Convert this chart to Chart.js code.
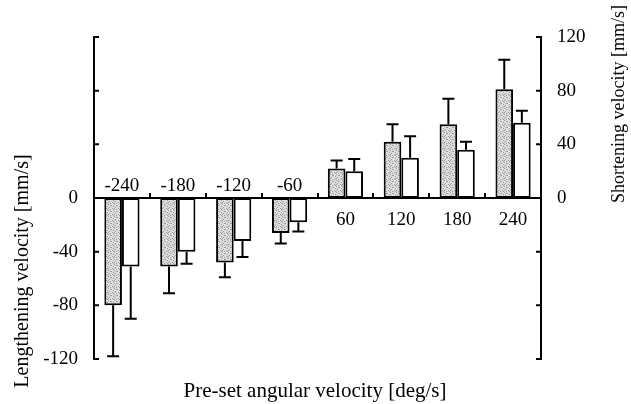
<!DOCTYPE html>
<html>
<head>
<meta charset="utf-8">
<script src="https://cdn.jsdelivr.net/npm/chart.js@4/dist/chart.umd.min.js"></script>
<style>
  html, body { margin: 0; padding: 0; background: #fff; }
  #wrap { width: 631px; height: 404px; }
</style>
</head>
<body>
<div id="wrap"><canvas id="velChart" width="631" height="404"></canvas></div>
<script>
// angular velocity categories (deg/s)
const categories = ['-240', '-180', '-120', '-60', '60', '120', '180', '240'];
// gray (stippled) bars and their error bars
const grayMeans = [-80, -51, -48, -26, 22, 42, 55, 81];
const grayErr = [38, 20, 11, 8, 6, 13, 19, 22];
// white bars and their error bars
const whiteMeans = [-51, -40, -32, -18, 20, 30, 36, 56];
const whiteErr = [39, 9, 12, 7, 9, 16, 6, 9];
const leftTicks = [-120, -80, -40, 0];
const rightTicks = [0, 40, 80, 120];

const serif = '"Liberation Serif", "Times New Roman", serif';
const ctx = document.getElementById('velChart').getContext('2d');

// stippled gray fill
function makeStipple() {
    const c = document.createElement('canvas');
    c.width = 6; c.height = 6;
    const g = c.getContext('2d');
    g.fillStyle = '#dedede';
    g.fillRect(0, 0, 6, 6);
    g.fillStyle = '#9a9a9a';
    [[0, 0], [3, 1], [5, 2], [1, 3], [4, 4], [2, 5], [5, 5], [2, 1], [0, 4]]
        .forEach(p => g.fillRect(p[0], p[1], 1, 1));
    return ctx.createPattern(c, 'repeat');
}

const errors = [grayErr, whiteErr];

// error bars, zero line, separators, inward ticks, labels, axis titles
const extras = {
    id: 'extras',
    afterDatasetsDraw(chart) {
        const c = chart.ctx;
        const area = chart.chartArea;
        const y = chart.scales.y;
        const zero = y.getPixelForValue(0);
        c.save();
        c.strokeStyle = '#000';
        c.lineWidth = 2;

        chart.data.datasets.forEach((ds, di) => {
            const meta = chart.getDatasetMeta(di);
            meta.data.forEach((bar, i) => {
                const v = ds.data[i];
                const e = errors[di][i];
                const end = y.getPixelForValue(v < 0 ? v - e : v + e);
                c.beginPath();
                c.moveTo(bar.x, bar.y);
                c.lineTo(bar.x, end);
                c.moveTo(bar.x - 6, end);
                c.lineTo(bar.x + 6, end);
                c.stroke();
            });
        });

        // zero line
        c.beginPath();
        c.moveTo(area.left, zero);
        c.lineTo(area.right, zero);
        c.stroke();

        // category separators
        const step = (area.right - area.left) / categories.length;
        c.beginPath();
        for (let i = 1; i < categories.length; i++) {
            const x = Math.round(area.left + step * i);
            c.moveTo(x, zero);
            c.lineTo(x, zero - 5);
        }
        c.stroke();

        // inward ticks on both axes
        c.beginPath();
        for (let v = -120; v <= 120; v += 40) {
            const py = y.getPixelForValue(v);
            c.moveTo(area.left, py);
            c.lineTo(area.left + 5, py);
            c.moveTo(area.right, py);
            c.lineTo(area.right - 5, py);
        }
        c.stroke();

        // category labels
        c.fillStyle = '#000';
        c.font = '19px ' + serif;
        c.textAlign = 'center';
        c.textBaseline = 'alphabetic';
        categories.forEach((lab, i) => {
            const x = area.left + step * (i + 0.5);
            if (lab.startsWith('-')) {
                c.fillText(lab, x, zero - 7);
            } else {
                c.fillText(lab, x, zero + 27);
            }
        });

        // axis titles
        c.font = '21px ' + serif;
        c.fillText('Pre-set angular velocity [deg/s]', 315, 397);
        c.save();
        c.translate(28, 271);
        c.rotate(-Math.PI / 2);
        c.font = '20px ' + serif;
        c.fillText('Lengthening velocity [mm/s]', 0, 0);
        c.restore();
        c.save();
        c.translate(624, 104);
        c.rotate(-Math.PI / 2);
        c.font = '18px ' + serif;
        c.fillText('Shortening velocity [mm/s]', 0, 0);
        c.restore();
        c.restore();
    }
};

const chart = new Chart(ctx, {
    type: 'bar',
    data: {
        labels: categories,
        datasets: [{
            data: grayMeans,
            backgroundColor: makeStipple(),
            borderColor: '#000',
            borderWidth: 2,
            borderSkipped: false
        }, {
            data: whiteMeans,
            backgroundColor: '#fff',
            borderColor: '#000',
            borderWidth: 2,
            borderSkipped: false
        }]
    },
    options: {
        responsive: false,
        animation: false,
        layout: { padding: { top: 37, bottom: 45, left: 0, right: 0 } },
        categoryPercentage: 0.63,
        barPercentage: 1.0,
        plugins: { legend: { display: false }, tooltip: { enabled: false } },
        scales: {
            x: { display: false },
            y: {
                position: 'left',
                min: -120, max: 120,
                afterBuildTicks: s => { s.ticks = leftTicks.map(v => ({ value: v })); },
                afterFit: s => { s.width = 94; },
                grid: { display: false, drawTicks: false },
                border: { display: true, color: '#000', width: 2 },
                ticks: { color: '#000', padding: 16, font: { family: serif, size: 19 } }
            },
            y2: {
                position: 'right',
                min: -120, max: 120,
                afterBuildTicks: s => { s.ticks = rightTicks.map(v => ({ value: v })); },
                afterFit: s => { s.width = 90; },
                grid: { display: false, drawTicks: false },
                border: { display: true, color: '#000', width: 2 },
                ticks: { color: '#000', padding: 16, font: { family: serif, size: 19 } }
            }
        }
    },
    plugins: [extras]
});
</script>
</body>
</html>
